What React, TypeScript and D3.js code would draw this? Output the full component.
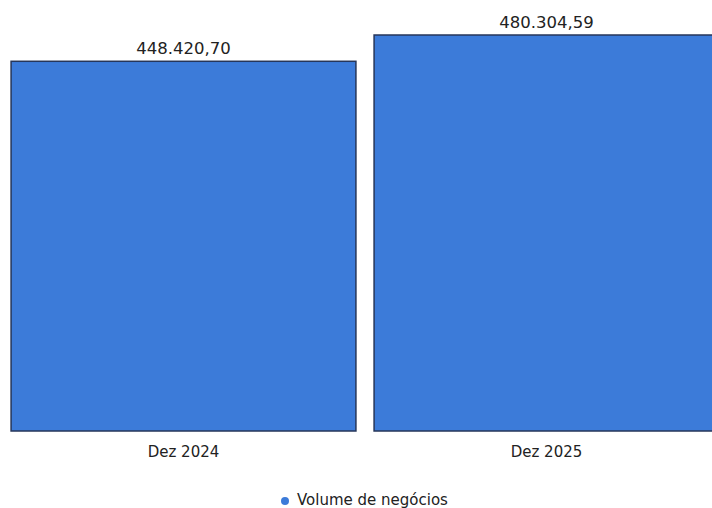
import * as d3 from "d3"

const categories = ["Dez 2024", "Dez 2025"]
const values = [448420.7, 480304.59]
const valueLabels = ["448.420,70", "480.304,59"]
const seriesName = "Volume de negócios"

export default function App() {
  const width = 712
  const height = 508
  const baseline = 431

  const x = d3
    .scaleBand<string>()
    .domain(categories)
    .range([2, 728])
    .paddingInner(0.05)
    .paddingOuter(0.025)
  const y = d3.scaleLinear().domain([0, values[1]]).range([baseline, 35])

  const font = "'DejaVu Sans', sans-serif"

  return (
    <svg
      width={width}
      height={height}
      style={{position: "absolute", left: 0, top: 0, background: "#fff"}}
    >
      <g className="bars">
        {categories.map((c, i) => (
          <rect
            key={c}
            x={x(c)}
            y={y(values[i])}
            width={x.bandwidth()}
            height={baseline - y(values[i])}
            fill="#3c7bd9"
            stroke="#26365a"
            strokeWidth={1.5}
          />
        ))}
      </g>
      <g className="labels" fontFamily={font} fontSize={16.5} fill="#222">
        {categories.map((c, i) => (
          <text
            key={c}
            x={(x(c) ?? 0) + Math.min(x.bandwidth(), 345) / 2}
            y={y(values[i]) - 7}
            textAnchor="middle"
          >
            {valueLabels[i]}
          </text>
        ))}
      </g>
      <g className="x-axis" fontFamily={font} fontSize={15} fill="#222">
        {categories.map((c) => (
          <text key={c} x={(x(c) ?? 0) + x.bandwidth() / 2} y={457} textAnchor="middle">
            {c}
          </text>
        ))}
      </g>
      <g className="legend" fontFamily={font} fontSize={15} fill="#222">
        <circle cx={285} cy={501} r={4} fill="#3c7bd9" />
        <text x={297} y={505}>
          {seriesName}
        </text>
      </g>
    </svg>
  )
}
